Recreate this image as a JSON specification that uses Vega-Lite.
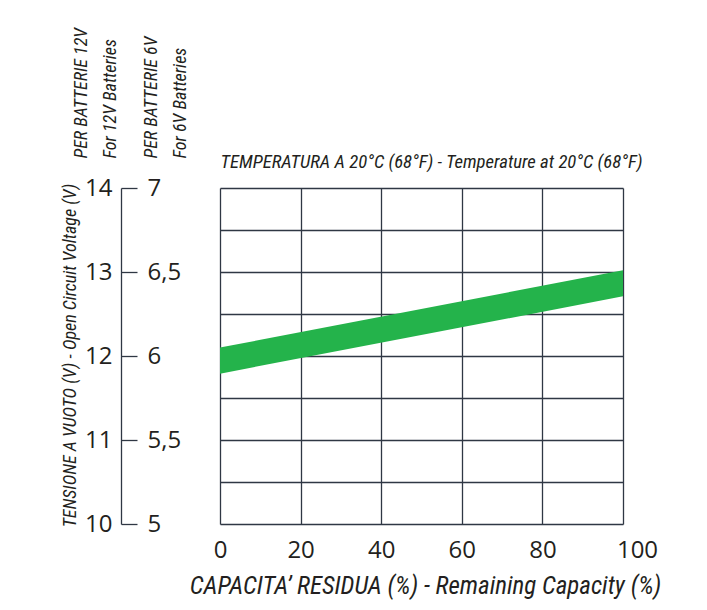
{
  "$schema": "https://vega.github.io/schema/vega-lite/v6.json",
  "width": 403,
  "height": 336,
  "autosize": {"type": "none"},
  "padding": {"left": 220, "top": 188, "right": 84, "bottom": 86},
  "background": "white",
  "config": {"view": {"stroke": null}, "font": "Open Sans"},
  "data": {"values": [
    {"cap": 0, "lo": 11.79, "hi": 12.10},
    {"cap": 100, "lo": 12.71, "hi": 13.02}
  ]},
  "resolve": {"axis": {"x": "independent", "y": "independent"}},
  "layer": [
    {
      "mark": {"type": "area", "color": "#24b34b", "opacity": 1},
      "encoding": {
        "x": {"field": "cap", "type": "quantitative",
          "scale": {"domain": [0, 100], "nice": false},
          "axis": {"orient": "bottom", "grid": false, "domain": false, "ticks": false,
            "values": [0, 20, 40, 60, 80, 100], "labelFlush": false,
            "labelFont": "Open Sans", "labelFontSize": 24, "labelColor": "#231f20", "labelPadding": 14,
            "labelOffset": {"condition": {"test": "datum.value == 100", "value": 14}, "value": 0},
            "title": "CAPACITA’ RESIDUA (%) - Remaining Capacity (%)",
            "titleFont": "'Roboto Condensed', 'Liberation Sans Narrow', Lato, sans-serif",
            "titleFontStyle": "italic", "titleFontWeight": "normal", "titleFontSize": 25,
            "titleColor": "#231f20", "titleX": 205, "titleY": 69,
            "titleAlign": "center", "titleBaseline": "alphabetic"}},
        "y": {"field": "hi", "type": "quantitative",
          "scale": {"domain": [10, 14], "nice": false, "zero": false},
          "axis": {"orient": "left", "grid": true, "gridColor": "#2f3744", "gridWidth": 1.3,
            "domain": false, "ticks": false, "labels": false,
            "values": [10, 10.5, 11, 11.5, 12, 12.5, 13, 13.5, 14],
            "title": "TENSIONE A VUOTO (V) - Open Circuit Voltage (V)",
            "titleFont": "'Roboto Condensed', 'Liberation Sans Narrow', Lato, sans-serif",
            "titleFontStyle": "italic", "titleFontWeight": "normal", "titleFontSize": 18,
            "titleColor": "#231f20", "titleAngle": 270, "titleX": -145, "titleY": 167,
            "titleAlign": "center", "titleBaseline": "alphabetic"}},
        "y2": {"field": "lo"}
      }
    },
    {
      "mark": {"type": "line", "opacity": 0, "strokeWidth": 0},
      "encoding": {
        "x": {"field": "cap", "type": "quantitative",
          "axis": {"orient": "top", "grid": true, "gridColor": "#2f3744", "gridWidth": 1.3,
            "domain": false, "ticks": false, "labels": false,
            "values": [0, 20, 40, 60, 80, 100],
            "title": "TEMPERATURA A 20°C (68°F) - Temperature at 20°C (68°F)",
            "titleFont": "'Roboto Condensed', 'Liberation Sans Narrow', Lato, sans-serif",
            "titleFontStyle": "italic", "titleFontWeight": "normal", "titleFontSize": 18.7,
            "titleColor": "#231f20", "titleX": 0, "titleY": -21,
            "titleAlign": "left", "titleBaseline": "alphabetic"}},
        "y": {"field": "lo", "type": "quantitative",
          "axis": {"orient": "left", "offset": 99, "grid": false,
            "domain": true, "domainColor": "#2f3744", "domainWidth": 1.3,
            "ticks": true, "tickSize": -16, "tickColor": "#2f3744", "tickWidth": 1.3,
            "values": [10, 10.5, 11, 11.5, 12, 12.5, 13, 13.5, 14], "format": "d",
            "labelExpr": "datum.value == 10 || datum.value == 11 || datum.value == 12 || datum.value == 13 || datum.value == 14 ? datum.label : ''",
            "labelFont": "Open Sans", "labelFontSize": 24, "labelColor": "#231f20", "labelPadding": 25,
            "title": ["PER BATTERIE 12V", "For 12V Batteries"],
            "titleFont": "'Roboto Condensed', 'Liberation Sans Narrow', Lato, sans-serif",
            "titleFontStyle": "italic", "titleFontWeight": "normal", "titleFontSize": 18,
            "titleColor": "#231f20", "titleAngle": 270, "titleX": -35, "titleY": -30,
            "titleLineHeight": 29, "titleAlign": "left", "titleBaseline": "alphabetic"}}
      }
    },
    {
      "mark": {"type": "line", "opacity": 0, "strokeWidth": 0},
      "encoding": {
        "x": {"field": "cap", "type": "quantitative", "axis": null},
        "y": {"field": "lo", "type": "quantitative",
          "axis": {"orient": "left", "offset": 99, "grid": false,
            "domain": false, "ticks": false,
            "values": [10, 10.5, 11, 11.5, 12, 12.5, 13, 13.5, 14],
            "labelExpr": "datum.value == 14 ? '7' : datum.value == 13 ? '6,5' : datum.value == 12 ? '6' : datum.value == 11 ? '5,5' : datum.value == 10 ? '5' : ''",
            "labelAlign": "left", "labelPadding": -26,
            "labelFont": "Open Sans", "labelFontSize": 24, "labelColor": "#231f20",
            "title": ["PER BATTERIE 6V", "For 6V Batteries"],
            "titleFont": "'Roboto Condensed', 'Liberation Sans Narrow', Lato, sans-serif",
            "titleFontStyle": "italic", "titleFontWeight": "normal", "titleFontSize": 18,
            "titleColor": "#231f20", "titleAngle": 270, "titleX": 35, "titleY": -30,
            "titleLineHeight": 29, "titleAlign": "left", "titleBaseline": "alphabetic"}}
      }
    }
  ]
}
